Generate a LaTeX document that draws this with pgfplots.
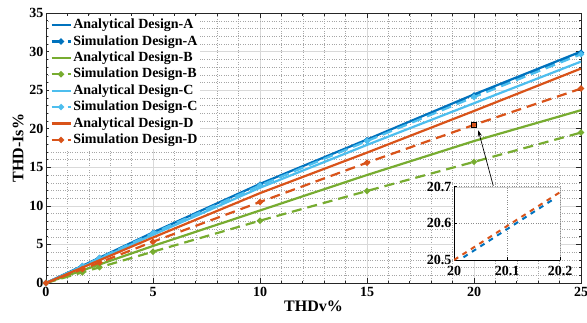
\documentclass[border=0pt]{standalone}
\usepackage{fontspec}
\setmainfont{Liberation Serif}
\usepackage{pgfplots}
\pgfplotsset{compat=1.18}
\usetikzlibrary{arrows.meta}
\definecolor{cA}{rgb}{0,0.447,0.741}
\definecolor{cB}{rgb}{0.466,0.674,0.188}
\definecolor{cC}{rgb}{0.302,0.745,0.933}
\definecolor{cD}{rgb}{0.85,0.325,0.098}
\pgfplotsset{
  ana/.style={line width=2.2pt, no marks},
  sim/.style={line width=2.2pt, dash pattern=on 10pt off 6pt, mark=*, mark size=1.8pt, mark options={solid}},
}
\begin{document}
\begin{tikzpicture}
\useasboundingbox (-46pt,-39pt) rectangle (541pt,283pt);
\begin{axis}[
  at={(0,0)}, anchor=south west,
  scale only axis, width=535pt, height=270pt,
  xmin=0, xmax=25, ymin=0, ymax=35,
  xtick={0,5,...,25}, ytick={0,5,...,35},
  minor x tick num=4, minor y tick num=4,
  grid=both,
  major grid style={black!15, line width=0.5pt},
  minor grid style={black!35, dotted, line width=0.4pt},
  axis line style={black!85, line width=0.8pt},
  tick style={black!85, line width=0.7pt},
  major tick length=5pt, minor tick length=2.5pt,
  tick label style={font=\fontsize{14}{14}\selectfont\bfseries},
  xticklabel style={yshift=-1pt},
  yticklabel style={xshift=1pt},
  /pgf/number format/assume math mode=true,
  xlabel={THDv\%}, ylabel={THD-Is\%},
  label style={font=\fontsize{16}{16}\selectfont\bfseries},
  xlabel style={yshift=3pt},
  ylabel style={yshift=-1pt},
  clip mode=individual,
  legend style={at={(0.006,0.99)}, anchor=north west, draw=none, fill=white,
    font=\fontsize{14}{14}\selectfont\bfseries, row sep=0pt, inner sep=1pt,
    nodes={text height=10pt, text depth=3pt, inner sep=1.7pt}},
  legend cell align=left,
  legend image code/.code={\draw[mark repeat=2, mark phase=2, #1] plot coordinates {(0pt,0pt) (9.5pt,0pt) (19pt,0pt)};},
]
\addplot[ana, cA] coordinates {(0,0) (5,6.55) (10,12.85) (15,18.6) (20,24.45) (25,30.0)};
\addlegendentry{Analytical Design-A}
\addplot[sim, cA] coordinates {(0,0) (1.7,2.2) (2.5,3.25) (5,6.5) (10,12.75) (15,18.5) (20,24.3) (25,29.85)};
\addlegendentry{Simulation Design-A}
\addplot[ana, cB] coordinates {(0,0) (5,4.8) (10,9.4) (15,14.0) (20,18.4) (25,22.4)};
\addlegendentry{Analytical Design-B}
\addplot[sim, cB] coordinates {(0,0) (1.7,1.38) (2.5,2.03) (5,4.06) (10,8.08) (15,11.93) (20,15.7) (25,19.5)};
\addlegendentry{Simulation Design-B}
\addplot[ana, cC] coordinates {(0,0) (5,6.25) (10,12.35) (15,17.9) (20,23.3) (25,28.7)};
\addlegendentry{Analytical Design-C}
\addplot[sim, cC] coordinates {(0,0) (1.7,2.18) (2.5,3.22) (5,6.45) (10,12.65) (15,18.4) (20,24.1) (25,29.65)};
\addlegendentry{Simulation Design-C}
\addplot[ana, cD] coordinates {(0,0) (5,5.9) (10,11.65) (15,16.9) (20,22.3) (25,27.8)};
\addlegendentry{Analytical Design-D}
\addplot[sim, cD] coordinates {(0,0) (1.7,1.8) (2.5,2.65) (5,5.35) (10,10.5) (15,15.6) (20,20.5) (25,25.2)};
\addlegendentry{Simulation Design-D}
\addplot[only marks, mark=square, mark size=2.4pt, black, line width=0.6pt, forget plot] coordinates {(20,20.5)};
\draw[-{Stealth[length=6pt,width=4pt]}, line width=0.7pt] (axis cs:20.9,12.6) -- (axis cs:20.2,19.8);
\end{axis}
\begin{axis}[
  at={(408pt,23pt)}, anchor=south west,
  scale only axis, width=106pt, height=73.3pt,
  xmin=20, xmax=20.2, ymin=20.5, ymax=20.7,
  xtick={20,20.1,20.2}, ytick={20.5,20.6,20.7},
  axis x line*=bottom, axis y line*=left,
  axis background/.style={fill=white, draw=black!20},
  grid=major, major grid style={black!45, dotted, line width=0.5pt},
  axis line style={black, line width=0.8pt, -},
  tick style={black, line width=0.6pt},
  major tick length=3pt,
  tick label style={font=\fontsize{14}{14}\selectfont\bfseries},
  xticklabel style={yshift=-2.5pt},
  yticklabel style={xshift=1pt},
  /pgf/number format/assume math mode=true,
  /pgf/number format/fixed,
  /pgf/number format/precision=1,
  clip mode=individual,
]
\addplot[cD, line width=2pt, dash pattern=on 5pt off 5pt, no marks] coordinates {(20,20.5) (20.2,20.685)};
\addplot[cA, line width=2pt, dash pattern=on 5pt off 5pt, dash phase=5pt, no marks] coordinates {(20.01,20.5) (20.19,20.668)};
\end{axis}
\end{tikzpicture}
\end{document}
